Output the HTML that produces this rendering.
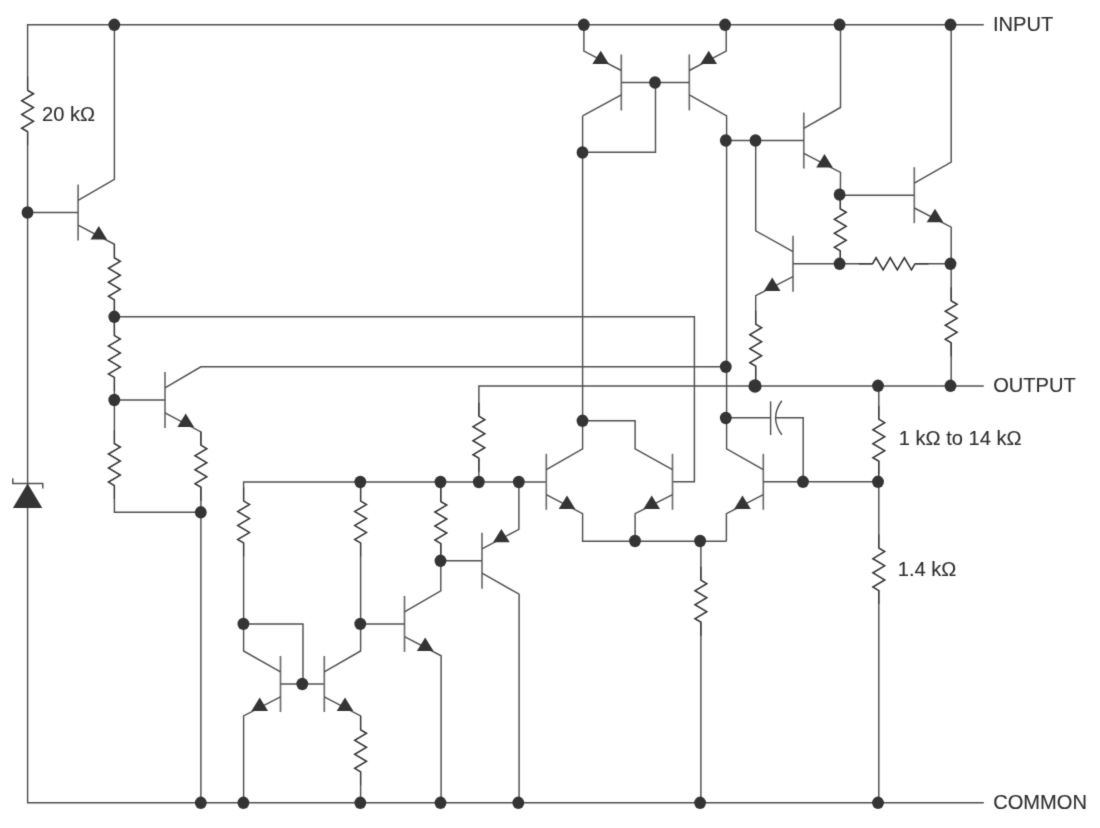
<!DOCTYPE html>
<html><head><meta charset="utf-8"><title>Schematic</title>
<style>
html,body{margin:0;padding:0;background:#fff;}
body{width:1100px;height:828px;overflow:hidden;}
svg{display:block;will-change:transform;}
svg text{font-family:"Liberation Sans",sans-serif;font-size:20.1px;fill:#2e2e2e;stroke:#2e2e2e;stroke-width:0.12px;}
</style></head><body>
<svg width="1100" height="828" viewBox="0 0 1100 828">
<defs><filter id="soft" x="0" y="0" width="1100" height="828" filterUnits="userSpaceOnUse" color-interpolation-filters="sRGB"><feConvolveMatrix order="3" kernelMatrix="0.01440 0.09120 0.01440 0.09120 0.57760 0.09120 0.01440 0.09120 0.01440" divisor="1" edgeMode="duplicate" preserveAlpha="false"/></filter></defs>
<rect width="1100" height="828" fill="#ffffff"/>
<g filter="url(#soft)">
<rect width="1100" height="828" fill="#ffffff"/>
<polyline points="27.60,90.10 27.60,24.80 983.80,24.80" fill="none" stroke="#505050" stroke-width="1.45" stroke-linejoin="miter"/>
<polyline points="27.60,131.60 27.60,802.80 983.80,802.80" fill="none" stroke="#505050" stroke-width="1.45" stroke-linejoin="miter"/>
<polyline points="27.60,90.30 33.50,93.75 21.70,100.65 33.50,107.55 21.70,114.45 33.50,121.35 21.70,128.25 27.60,131.70" fill="none" stroke="#505050" stroke-width="1.45" stroke-linejoin="miter"/>
<line x1="78.10" y1="184.40" x2="78.10" y2="240.40" stroke="#6e6e6e" stroke-width="1.7"/>
<polyline points="27.60,212.40 78.10,212.40" fill="none" stroke="#505050" stroke-width="1.45" stroke-linejoin="miter"/>
<polyline points="78.10,200.30 114.40,179.40 114.40,24.80" fill="none" stroke="#505050" stroke-width="1.45" stroke-linejoin="miter"/>
<polyline points="78.10,225.20 114.40,244.30 114.40,257.80 120.30,261.30 108.50,268.30 120.30,275.30 108.50,282.30 120.30,289.30 108.50,296.30 114.40,299.80 114.40,335.50 120.30,339.00 108.50,346.00 120.30,353.00 108.50,360.00 120.30,367.00 108.50,374.00 114.40,377.50 114.40,443.60 120.30,447.10 108.50,454.10 120.30,461.10 108.50,468.10 120.30,475.10 108.50,482.10 114.40,485.60 114.40,512.20 200.90,512.20" fill="none" stroke="#505050" stroke-width="1.45" stroke-linejoin="miter"/>
<polyline points="114.40,316.80 694.40,316.80 694.40,481.80 672.50,481.80" fill="none" stroke="#505050" stroke-width="1.45" stroke-linejoin="miter"/>
<line x1="165.00" y1="372.00" x2="165.00" y2="428.00" stroke="#6e6e6e" stroke-width="1.7"/>
<polyline points="114.40,400.00 165.00,400.00" fill="none" stroke="#505050" stroke-width="1.45" stroke-linejoin="miter"/>
<polyline points="165.00,387.90 200.90,366.80 725.80,366.80" fill="none" stroke="#505050" stroke-width="1.45" stroke-linejoin="miter"/>
<polyline points="165.00,412.80 200.90,431.90 200.90,445.20 206.80,448.70 195.00,455.70 206.80,462.70 195.00,469.70 206.80,476.70 195.00,483.70 200.90,487.20 200.90,802.80" fill="none" stroke="#505050" stroke-width="1.45" stroke-linejoin="miter"/>
<polyline points="243.60,501.00 243.60,482.00 546.30,482.00" fill="none" stroke="#505050" stroke-width="1.45" stroke-linejoin="miter"/>
<line x1="280.50" y1="656.00" x2="280.50" y2="712.00" stroke="#6e6e6e" stroke-width="1.7"/>
<polyline points="243.60,501.00 249.50,504.50 237.70,511.50 249.50,518.50 237.70,525.50 249.50,532.50 237.70,539.50 243.60,543.00 243.60,651.00 280.50,671.90" fill="none" stroke="#505050" stroke-width="1.45" stroke-linejoin="miter"/>
<polyline points="280.50,696.80 243.60,715.90 243.60,802.80" fill="none" stroke="#505050" stroke-width="1.45" stroke-linejoin="miter"/>
<polyline points="243.60,623.90 303.00,623.90 303.00,684.00" fill="none" stroke="#505050" stroke-width="1.45" stroke-linejoin="miter"/>
<polyline points="280.50,684.00 324.30,684.00" fill="none" stroke="#505050" stroke-width="1.45" stroke-linejoin="miter"/>
<line x1="324.30" y1="656.00" x2="324.30" y2="712.00" stroke="#6e6e6e" stroke-width="1.7"/>
<polyline points="360.60,482.00 360.60,501.00 366.50,504.50 354.70,511.50 366.50,518.50 354.70,525.50 366.50,532.50 354.70,539.50 360.60,543.00 360.60,651.00 324.30,671.90" fill="none" stroke="#505050" stroke-width="1.45" stroke-linejoin="miter"/>
<polyline points="324.30,696.80 360.60,715.90 360.60,729.80 366.50,733.30 354.70,740.30 366.50,747.30 354.70,754.30 366.50,761.30 354.70,768.30 360.60,771.80 360.60,802.80" fill="none" stroke="#505050" stroke-width="1.45" stroke-linejoin="miter"/>
<line x1="404.50" y1="595.90" x2="404.50" y2="651.90" stroke="#6e6e6e" stroke-width="1.7"/>
<polyline points="360.60,623.90 404.50,623.90" fill="none" stroke="#505050" stroke-width="1.45" stroke-linejoin="miter"/>
<polyline points="440.80,482.00 440.80,501.60 446.70,505.10 434.90,512.10 446.70,519.10 434.90,526.10 446.70,533.10 434.90,540.10 440.80,543.60 440.80,590.90 404.50,611.80" fill="none" stroke="#505050" stroke-width="1.45" stroke-linejoin="miter"/>
<polyline points="404.50,636.70 441.10,655.80 441.10,802.80" fill="none" stroke="#505050" stroke-width="1.45" stroke-linejoin="miter"/>
<line x1="482.00" y1="532.80" x2="482.00" y2="588.80" stroke="#6e6e6e" stroke-width="1.7"/>
<polyline points="440.80,560.80 482.00,560.80" fill="none" stroke="#505050" stroke-width="1.45" stroke-linejoin="miter"/>
<polyline points="482.00,548.80 518.90,529.40 518.90,482.00" fill="none" stroke="#505050" stroke-width="1.45" stroke-linejoin="miter"/>
<polyline points="482.00,573.20 519.10,594.20 519.10,802.80" fill="none" stroke="#505050" stroke-width="1.45" stroke-linejoin="miter"/>
<polyline points="478.90,482.00 478.90,458.20" fill="none" stroke="#505050" stroke-width="1.45" stroke-linejoin="miter"/>
<polyline points="478.90,416.20 484.80,419.70 473.00,426.70 484.80,433.70 473.00,440.70 484.80,447.70 473.00,454.70 478.90,458.20" fill="none" stroke="#505050" stroke-width="1.45" stroke-linejoin="miter"/>
<polyline points="478.90,416.20 478.90,386.00 983.80,386.00" fill="none" stroke="#505050" stroke-width="1.45" stroke-linejoin="miter"/>
<line x1="546.30" y1="453.80" x2="546.30" y2="509.80" stroke="#6e6e6e" stroke-width="1.7"/>
<polyline points="546.30,469.70 582.60,448.80 582.60,116.00" fill="none" stroke="#505050" stroke-width="1.45" stroke-linejoin="miter"/>
<polyline points="546.30,494.60 582.60,513.70 582.60,541.20 726.40,541.20" fill="none" stroke="#505050" stroke-width="1.45" stroke-linejoin="miter"/>
<line x1="672.50" y1="453.80" x2="672.50" y2="509.80" stroke="#6e6e6e" stroke-width="1.7"/>
<polyline points="582.60,420.80 635.10,420.80 635.10,448.80 672.50,469.70" fill="none" stroke="#505050" stroke-width="1.45" stroke-linejoin="miter"/>
<polyline points="672.50,494.60 635.10,513.70 635.10,541.20" fill="none" stroke="#505050" stroke-width="1.45" stroke-linejoin="miter"/>
<polyline points="700.90,541.20 700.90,580.20 706.80,583.70 695.00,590.70 706.80,597.70 695.00,604.70 706.80,611.70 695.00,618.70 700.90,622.20 700.90,802.80" fill="none" stroke="#505050" stroke-width="1.45" stroke-linejoin="miter"/>
<line x1="763.30" y1="453.80" x2="763.30" y2="509.80" stroke="#6e6e6e" stroke-width="1.7"/>
<polyline points="726.60,140.50 726.60,448.80 763.30,469.70" fill="none" stroke="#505050" stroke-width="1.45" stroke-linejoin="miter"/>
<polyline points="763.30,494.60 726.40,513.70 726.40,541.20" fill="none" stroke="#505050" stroke-width="1.45" stroke-linejoin="miter"/>
<polyline points="763.30,481.80 878.80,481.80" fill="none" stroke="#505050" stroke-width="1.45" stroke-linejoin="miter"/>
<polyline points="725.80,417.80 770.60,417.80" fill="none" stroke="#505050" stroke-width="1.45" stroke-linejoin="miter"/>
<line x1="770.6" y1="401.4" x2="770.6" y2="435.0" stroke="#505050" stroke-width="1.45"/>
<path d="M781.8,400.7 Q769.4,417.8 781.8,434.8" fill="none" stroke="#505050" stroke-width="1.45"/>
<polyline points="775.60,417.80 803.20,417.80 803.20,481.80" fill="none" stroke="#505050" stroke-width="1.45" stroke-linejoin="miter"/>
<polyline points="878.80,386.00 878.80,419.20 884.70,422.70 872.90,429.70 884.70,436.70 872.90,443.70 884.70,450.70 872.90,457.70 878.80,461.20 878.80,548.00 884.70,551.55 872.90,558.65 884.70,565.75 872.90,572.85 884.70,579.95 872.90,587.05 878.80,590.60 878.80,802.80" fill="none" stroke="#505050" stroke-width="1.45" stroke-linejoin="miter"/>
<line x1="621.30" y1="54.50" x2="621.30" y2="110.50" stroke="#6e6e6e" stroke-width="1.7"/>
<polyline points="583.90,24.80 583.90,51.10 621.30,70.50" fill="none" stroke="#505050" stroke-width="1.45" stroke-linejoin="miter"/>
<polyline points="621.30,94.90 582.60,115.90" fill="none" stroke="#505050" stroke-width="1.45" stroke-linejoin="miter"/>
<line x1="689.30" y1="54.50" x2="689.30" y2="110.50" stroke="#6e6e6e" stroke-width="1.7"/>
<polyline points="726.20,24.80 726.20,51.10 689.30,70.50" fill="none" stroke="#505050" stroke-width="1.45" stroke-linejoin="miter"/>
<polyline points="689.30,94.90 726.60,115.90 726.60,141.00" fill="none" stroke="#505050" stroke-width="1.45" stroke-linejoin="miter"/>
<polyline points="621.30,82.50 689.30,82.50" fill="none" stroke="#505050" stroke-width="1.45" stroke-linejoin="miter"/>
<polyline points="655.50,82.50 655.50,152.20 582.60,152.20" fill="none" stroke="#505050" stroke-width="1.45" stroke-linejoin="miter"/>
<line x1="803.80" y1="112.50" x2="803.80" y2="168.50" stroke="#6e6e6e" stroke-width="1.7"/>
<polyline points="726.60,140.50 803.80,140.50" fill="none" stroke="#505050" stroke-width="1.45" stroke-linejoin="miter"/>
<polyline points="803.80,128.40 840.50,107.50 840.50,24.80" fill="none" stroke="#505050" stroke-width="1.45" stroke-linejoin="miter"/>
<polyline points="803.80,153.30 840.50,172.40 840.30,208.80 846.20,212.30 834.40,219.30 846.20,226.30 834.40,233.30 846.20,240.30 834.40,247.30 840.30,250.80 840.30,263.80" fill="none" stroke="#505050" stroke-width="1.45" stroke-linejoin="miter"/>
<line x1="914.30" y1="167.20" x2="914.30" y2="223.20" stroke="#6e6e6e" stroke-width="1.7"/>
<polyline points="840.30,195.20 914.30,195.20" fill="none" stroke="#505050" stroke-width="1.45" stroke-linejoin="miter"/>
<polyline points="914.30,183.10 951.20,162.20 951.20,24.80" fill="none" stroke="#505050" stroke-width="1.45" stroke-linejoin="miter"/>
<polyline points="914.30,208.00 951.20,227.10 951.20,300.80 957.10,304.30 945.30,311.30 957.10,318.30 945.30,325.30 957.10,332.30 945.30,339.30 951.20,342.80 951.20,386.00" fill="none" stroke="#505050" stroke-width="1.45" stroke-linejoin="miter"/>
<line x1="793.00" y1="235.80" x2="793.00" y2="291.80" stroke="#6e6e6e" stroke-width="1.7"/>
<polyline points="755.70,140.50 755.70,230.80 793.00,251.70" fill="none" stroke="#505050" stroke-width="1.45" stroke-linejoin="miter"/>
<polyline points="793.00,276.60 755.70,295.70 755.70,324.20 761.60,327.70 749.80,334.70 761.60,341.70 749.80,348.70 761.60,355.70 749.80,362.70 755.70,366.20 755.70,386.00" fill="none" stroke="#505050" stroke-width="1.45" stroke-linejoin="miter"/>
<polyline points="793.00,263.80 872.50,263.80" fill="none" stroke="#505050" stroke-width="1.45" stroke-linejoin="miter"/>
<polyline points="872.50,263.80 876.04,257.80 883.12,269.80 890.21,257.80 897.29,269.80 904.38,257.80 911.46,269.80 915.00,263.80" fill="none" stroke="#505050" stroke-width="1.45" stroke-linejoin="miter"/>
<polyline points="915.00,263.80 951.20,263.80" fill="none" stroke="#505050" stroke-width="1.45" stroke-linejoin="miter"/>
<polyline points="12.8,478.2 12.8,483.4 42.8,483.4 42.8,488.4" fill="none" stroke="#505050" stroke-width="1.45"/>
<polygon points="27.6,483.6 12.9,507.9 42.3,507.9" fill="#343434"/>
<polyline points="27.60,76.80 27.60,90.30 33.50,93.75 21.70,100.65 33.50,107.55 21.70,114.45 33.50,121.35 21.70,128.25 27.60,131.70 27.60,145.20" fill="none" stroke="#383838" stroke-width="1.2" stroke-linejoin="miter"/>
<polyline points="114.40,244.30 114.40,257.80 120.30,261.30 108.50,268.30 120.30,275.30 108.50,282.30 120.30,289.30 108.50,296.30 114.40,299.80 114.40,313.30" fill="none" stroke="#383838" stroke-width="1.2" stroke-linejoin="miter"/>
<polyline points="114.40,322.00 114.40,335.50 120.30,339.00 108.50,346.00 120.30,353.00 108.50,360.00 120.30,367.00 108.50,374.00 114.40,377.50 114.40,391.00" fill="none" stroke="#383838" stroke-width="1.2" stroke-linejoin="miter"/>
<polyline points="114.40,430.10 114.40,443.60 120.30,447.10 108.50,454.10 120.30,461.10 108.50,468.10 120.30,475.10 108.50,482.10 114.40,485.60 114.40,499.10" fill="none" stroke="#383838" stroke-width="1.2" stroke-linejoin="miter"/>
<polyline points="200.90,431.70 200.90,445.20 206.80,448.70 195.00,455.70 206.80,462.70 195.00,469.70 206.80,476.70 195.00,483.70 200.90,487.20 200.90,500.70" fill="none" stroke="#383838" stroke-width="1.2" stroke-linejoin="miter"/>
<polyline points="243.60,487.50 243.60,501.00 249.50,504.50 237.70,511.50 249.50,518.50 237.70,525.50 249.50,532.50 237.70,539.50 243.60,543.00 243.60,556.50" fill="none" stroke="#383838" stroke-width="1.2" stroke-linejoin="miter"/>
<polyline points="360.60,487.50 360.60,501.00 366.50,504.50 354.70,511.50 366.50,518.50 354.70,525.50 366.50,532.50 354.70,539.50 360.60,543.00 360.60,556.50" fill="none" stroke="#383838" stroke-width="1.2" stroke-linejoin="miter"/>
<polyline points="360.60,716.30 360.60,729.80 366.50,733.30 354.70,740.30 366.50,747.30 354.70,754.30 366.50,761.30 354.70,768.30 360.60,771.80 360.60,785.30" fill="none" stroke="#383838" stroke-width="1.2" stroke-linejoin="miter"/>
<polyline points="440.80,488.10 440.80,501.60 446.70,505.10 434.90,512.10 446.70,519.10 434.90,526.10 446.70,533.10 434.90,540.10 440.80,543.60 440.80,557.10" fill="none" stroke="#383838" stroke-width="1.2" stroke-linejoin="miter"/>
<polyline points="478.90,402.70 478.90,416.20 484.80,419.70 473.00,426.70 484.80,433.70 473.00,440.70 484.80,447.70 473.00,454.70 478.90,458.20 478.90,471.70" fill="none" stroke="#383838" stroke-width="1.2" stroke-linejoin="miter"/>
<polyline points="700.90,566.70 700.90,580.20 706.80,583.70 695.00,590.70 706.80,597.70 695.00,604.70 706.80,611.70 695.00,618.70 700.90,622.20 700.90,635.70" fill="none" stroke="#383838" stroke-width="1.2" stroke-linejoin="miter"/>
<polyline points="878.80,405.70 878.80,419.20 884.70,422.70 872.90,429.70 884.70,436.70 872.90,443.70 884.70,450.70 872.90,457.70 878.80,461.20 878.80,474.70" fill="none" stroke="#383838" stroke-width="1.2" stroke-linejoin="miter"/>
<polyline points="878.80,534.50 878.80,548.00 884.70,551.55 872.90,558.65 884.70,565.75 872.90,572.85 884.70,579.95 872.90,587.05 878.80,590.60 878.80,604.10" fill="none" stroke="#383838" stroke-width="1.2" stroke-linejoin="miter"/>
<polyline points="840.30,195.30 840.30,208.80 846.20,212.30 834.40,219.30 846.20,226.30 834.40,233.30 846.20,240.30 834.40,247.30 840.30,250.80 840.30,264.30" fill="none" stroke="#383838" stroke-width="1.2" stroke-linejoin="miter"/>
<polyline points="951.20,287.30 951.20,300.80 957.10,304.30 945.30,311.30 957.10,318.30 945.30,325.30 957.10,332.30 945.30,339.30 951.20,342.80 951.20,356.30" fill="none" stroke="#383838" stroke-width="1.2" stroke-linejoin="miter"/>
<polyline points="755.70,310.70 755.70,324.20 761.60,327.70 749.80,334.70 761.60,341.70 749.80,348.70 761.60,355.70 749.80,362.70 755.70,366.20 755.70,379.70" fill="none" stroke="#383838" stroke-width="1.2" stroke-linejoin="miter"/>
<polyline points="859.00,263.80 872.50,263.80 876.04,257.80 883.12,269.80 890.21,257.80 897.29,269.80 904.38,257.80 911.46,269.80 915.00,263.80 928.50,263.80" fill="none" stroke="#383838" stroke-width="1.2" stroke-linejoin="miter"/>
<polygon points="98.80,226.00 90.50,239.50 107.10,239.50" fill="#343434"/>
<polygon points="185.70,413.60 177.40,427.10 194.00,427.10" fill="#343434"/>
<polygon points="259.70,697.60 251.40,711.10 268.00,711.10" fill="#343434"/>
<polygon points="345.00,697.60 336.70,711.10 353.30,711.10" fill="#343434"/>
<polygon points="425.20,637.50 416.90,651.00 433.50,651.00" fill="#343434"/>
<polygon points="501.40,529.00 493.10,542.30 509.70,542.30" fill="#343434"/>
<polygon points="567.00,495.40 558.70,508.90 575.30,508.90" fill="#343434"/>
<polygon points="651.70,495.40 643.40,508.90 660.00,508.90" fill="#343434"/>
<polygon points="742.50,495.40 734.20,508.90 750.80,508.90" fill="#343434"/>
<polygon points="600.70,50.70 592.40,64.00 609.00,64.00" fill="#343434"/>
<polygon points="708.70,50.70 700.40,64.00 717.00,64.00" fill="#343434"/>
<polygon points="824.50,154.10 816.20,167.60 832.80,167.60" fill="#343434"/>
<polygon points="935.00,208.80 926.70,222.30 943.30,222.30" fill="#343434"/>
<polygon points="772.20,277.40 763.90,290.90 780.50,290.90" fill="#343434"/>
<ellipse cx="114.30" cy="24.80" rx="5.9" ry="6.2" fill="#343434"/>
<ellipse cx="583.80" cy="24.80" rx="5.9" ry="6.2" fill="#343434"/>
<ellipse cx="725.10" cy="24.80" rx="5.9" ry="6.2" fill="#343434"/>
<ellipse cx="839.60" cy="24.80" rx="5.9" ry="6.2" fill="#343434"/>
<ellipse cx="950.50" cy="24.80" rx="5.9" ry="6.2" fill="#343434"/>
<ellipse cx="27.50" cy="212.50" rx="5.9" ry="6.2" fill="#343434"/>
<ellipse cx="114.30" cy="316.80" rx="5.9" ry="6.2" fill="#343434"/>
<ellipse cx="114.30" cy="400.00" rx="5.9" ry="6.2" fill="#343434"/>
<ellipse cx="200.80" cy="512.30" rx="5.9" ry="6.2" fill="#343434"/>
<ellipse cx="200.80" cy="802.80" rx="5.9" ry="6.2" fill="#343434"/>
<ellipse cx="243.40" cy="802.80" rx="5.9" ry="6.2" fill="#343434"/>
<ellipse cx="360.30" cy="802.80" rx="5.9" ry="6.2" fill="#343434"/>
<ellipse cx="440.50" cy="802.80" rx="5.9" ry="6.2" fill="#343434"/>
<ellipse cx="518.30" cy="802.80" rx="5.9" ry="6.2" fill="#343434"/>
<ellipse cx="700.10" cy="802.80" rx="5.9" ry="6.2" fill="#343434"/>
<ellipse cx="878.00" cy="802.80" rx="5.9" ry="6.2" fill="#343434"/>
<ellipse cx="243.40" cy="623.90" rx="5.9" ry="6.2" fill="#343434"/>
<ellipse cx="360.30" cy="623.90" rx="5.9" ry="6.2" fill="#343434"/>
<ellipse cx="302.30" cy="684.00" rx="5.9" ry="6.2" fill="#343434"/>
<ellipse cx="360.30" cy="482.00" rx="5.9" ry="6.2" fill="#343434"/>
<ellipse cx="440.50" cy="482.00" rx="5.9" ry="6.2" fill="#343434"/>
<ellipse cx="478.80" cy="482.00" rx="5.9" ry="6.2" fill="#343434"/>
<ellipse cx="518.80" cy="482.00" rx="5.9" ry="6.2" fill="#343434"/>
<ellipse cx="440.50" cy="560.80" rx="5.9" ry="6.2" fill="#343434"/>
<ellipse cx="582.50" cy="420.80" rx="5.9" ry="6.2" fill="#343434"/>
<ellipse cx="635.00" cy="541.00" rx="5.9" ry="6.2" fill="#343434"/>
<ellipse cx="700.10" cy="541.00" rx="5.9" ry="6.2" fill="#343434"/>
<ellipse cx="878.00" cy="481.80" rx="5.9" ry="6.2" fill="#343434"/>
<ellipse cx="803.00" cy="481.80" rx="5.9" ry="6.2" fill="#343434"/>
<ellipse cx="725.80" cy="418.00" rx="5.9" ry="6.2" fill="#343434"/>
<ellipse cx="725.80" cy="366.80" rx="5.9" ry="6.2" fill="#343434"/>
<ellipse cx="878.00" cy="385.80" rx="5.9" ry="6.2" fill="#343434"/>
<ellipse cx="950.50" cy="385.80" rx="5.9" ry="6.2" fill="#343434"/>
<ellipse cx="950.50" cy="263.80" rx="5.9" ry="6.2" fill="#343434"/>
<ellipse cx="839.60" cy="263.80" rx="5.9" ry="6.2" fill="#343434"/>
<ellipse cx="839.60" cy="194.60" rx="5.9" ry="6.2" fill="#343434"/>
<ellipse cx="725.80" cy="140.50" rx="5.9" ry="6.2" fill="#343434"/>
<ellipse cx="755.50" cy="140.50" rx="5.9" ry="6.2" fill="#343434"/>
<ellipse cx="655.00" cy="82.50" rx="5.9" ry="6.2" fill="#343434"/>
<ellipse cx="582.50" cy="152.50" rx="5.9" ry="6.2" fill="#343434"/>
<ellipse cx="755.00" cy="386.00" rx="6.6" ry="6.8" fill="#343434"/>
<text x="993.0" y="31.0">INPUT</text>
<text x="993.2" y="392.1">OUTPUT</text>
<text x="993.2" y="809.1">COMMON</text>
<text x="42.0" y="120.8">20 k&#937;</text>
<text x="898.8" y="444.6">1 k&#937; to 14 k&#937;</text>
<text x="897.8" y="575.8">1.4 k&#937;</text>
</g>
</svg>
</body></html>
